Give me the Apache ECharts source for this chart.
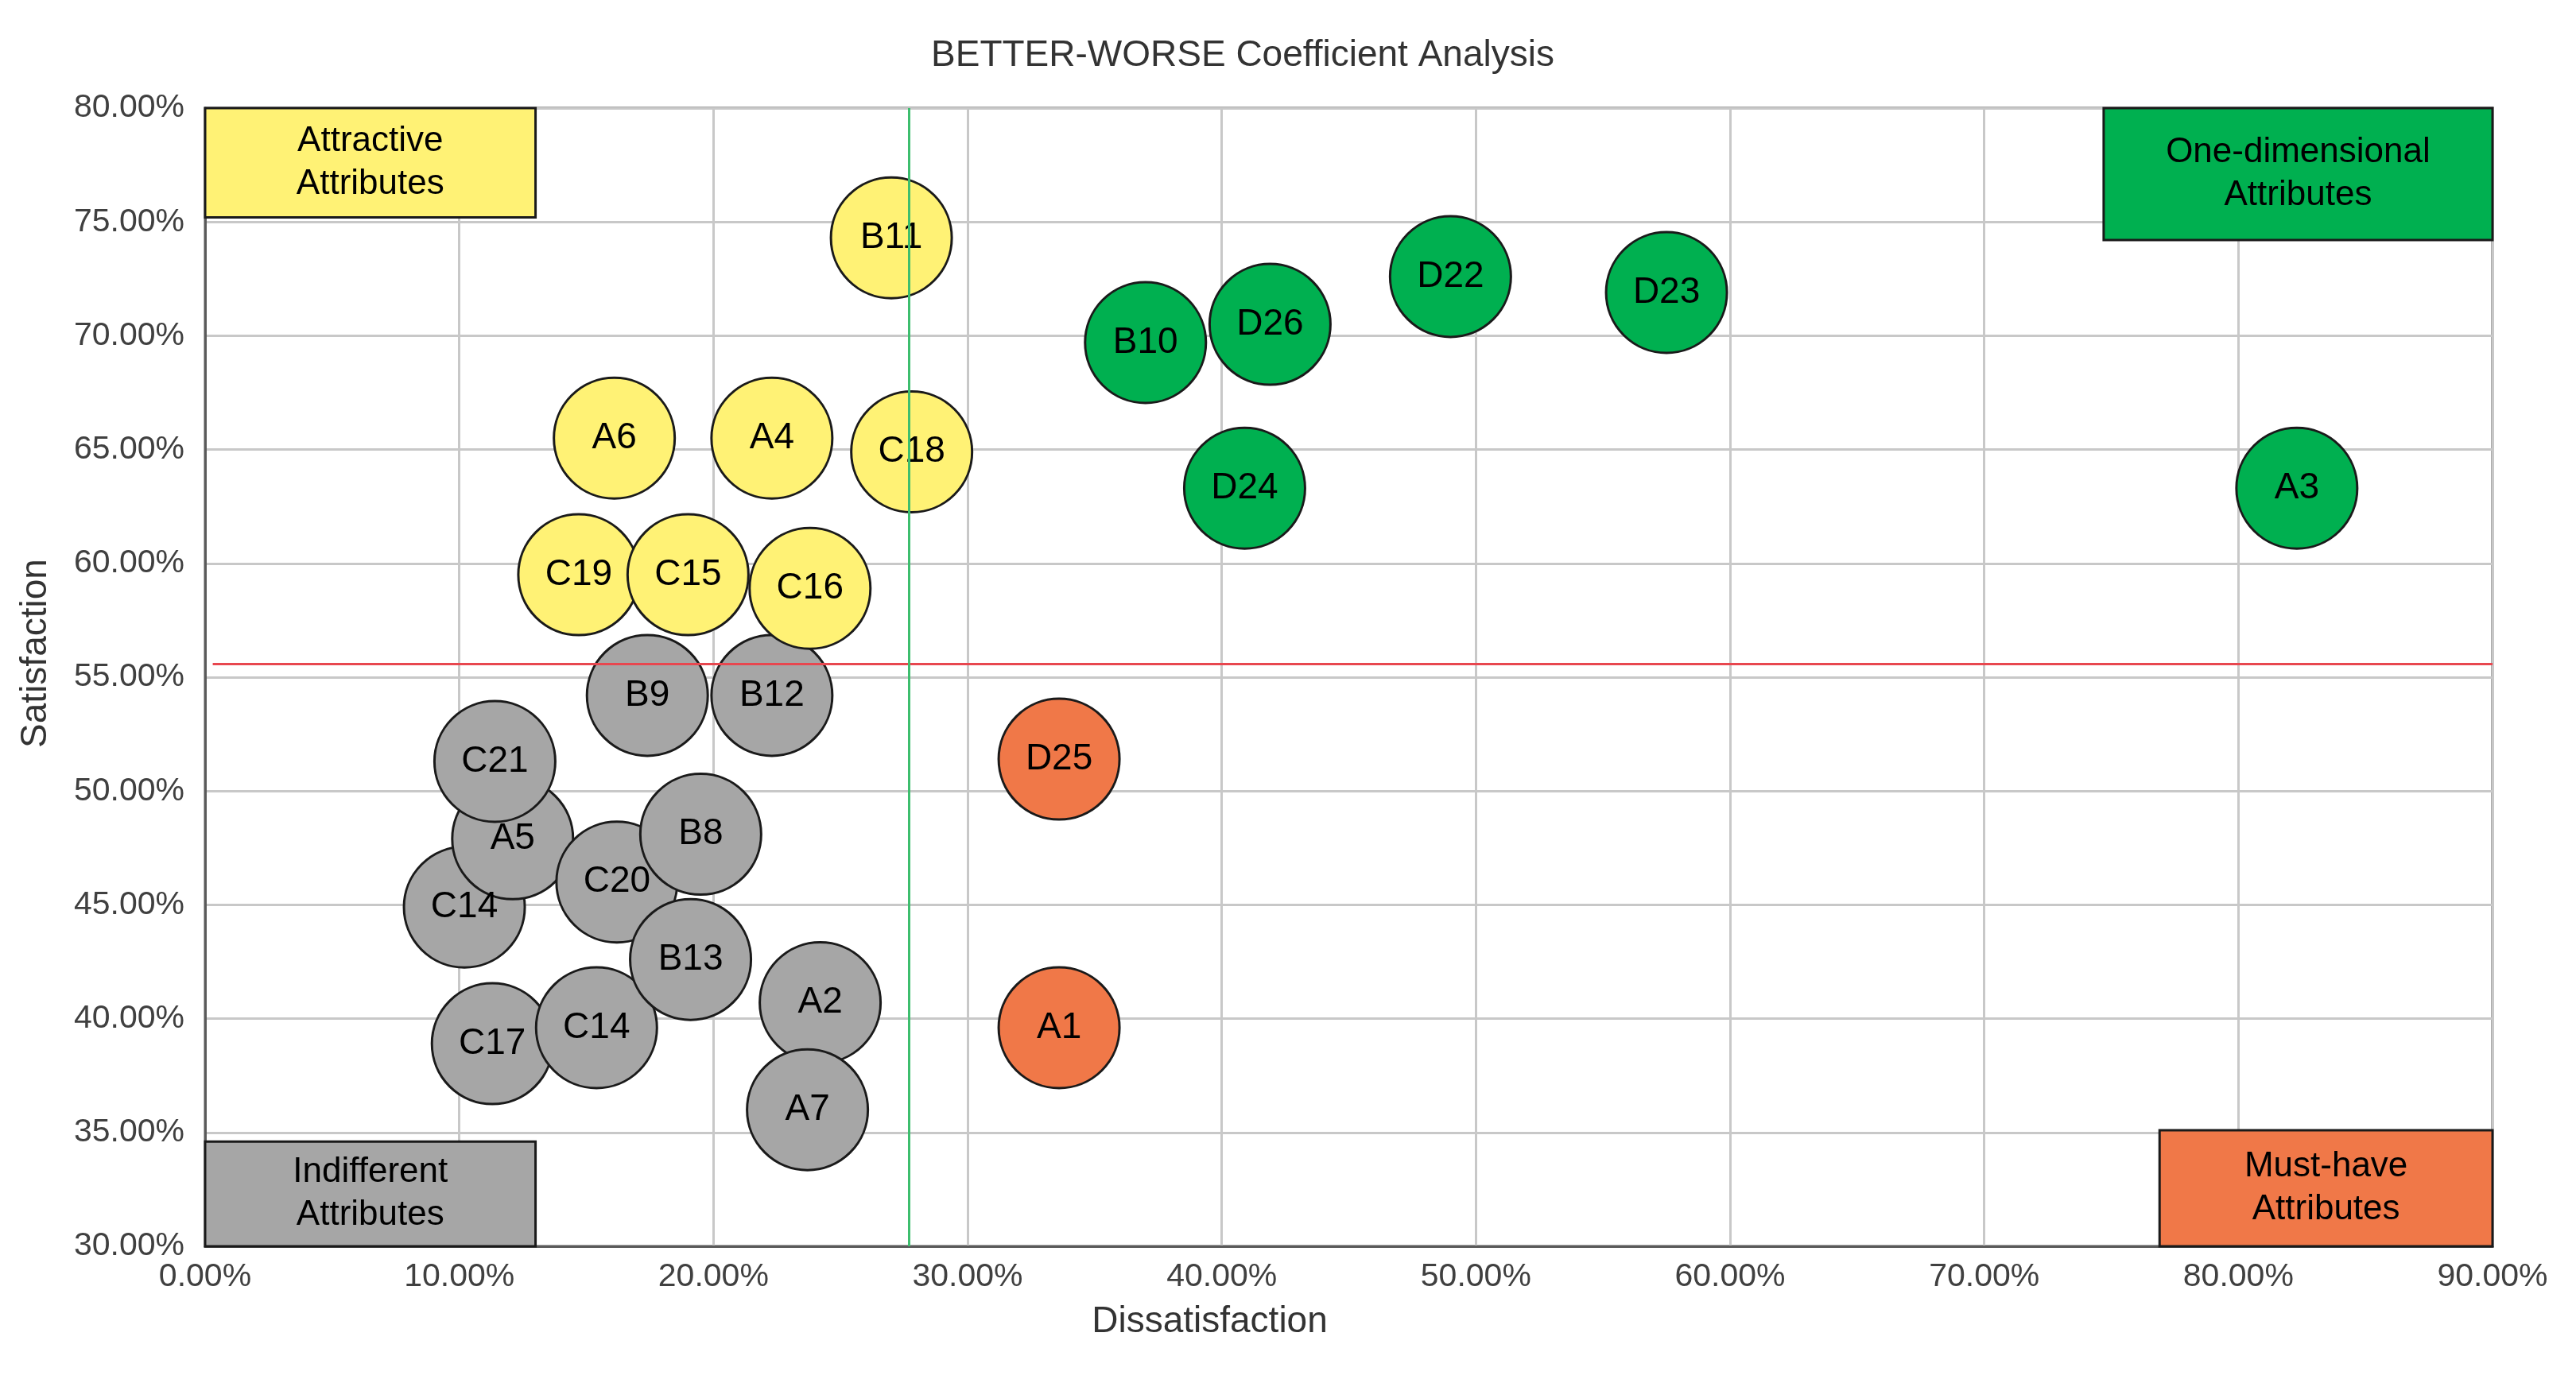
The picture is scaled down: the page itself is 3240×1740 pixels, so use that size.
<!DOCTYPE html>
<html>
<head>
<meta charset="utf-8">
<script src="https://cdn.jsdelivr.net/npm/echarts@6/dist/echarts.min.js"></script>
<style>
html,body{margin:0;padding:0;background:#fff;}
#chart{width:3240px;height:1740px;}
</style>
</head>
<body>
<div id="chart"></div>
<script>
// ---- data (values in %) ----
const grayNames = ['C14','A5','C21','C17','C14','C20','B8','B13','B9','B12','A2','A7'];
const grayX     = [10.2, 12.1, 11.4, 11.3, 15.4, 16.2, 19.5, 19.1, 17.4, 22.3, 24.2, 23.7];
const grayY     = [44.9, 47.9, 51.3, 38.9, 39.6, 46.0, 48.1, 42.6, 54.2, 54.2, 40.7, 36.0];

const orangeNames = ['D25','A1'];
const orangeX     = [33.6, 33.6];
const orangeY     = [51.4, 39.6];

const greenNames = ['B10','D26','D22','D23','D24','A3'];
const greenX     = [37.0, 41.9, 49.0, 57.5, 40.9, 82.3];
const greenY     = [69.7, 70.5, 72.6, 71.9, 63.3, 63.3];

const yellowNames = ['C19','C15','C16','A6','A4','C18','B11'];
const yellowX     = [14.7, 19.0, 23.8, 16.1, 22.3, 27.8, 27.0];
const yellowY     = [59.5, 59.5, 58.9, 65.5, 65.5, 64.9, 74.3];

const meanDissatisfaction = 27.7;
const meanSatisfaction = 55.6;

const xTicks = [0,10,20,30,40,50,60,70,80,90];
const yTicks = [30,35,40,45,50,55,60,65,70,75,80];

const quadrantNames = ['Attractive\nAttributes','One-dimensional\nAttributes','Indifferent\nAttributes','Must-have\nAttributes'];
// corner boxes in axis units: [x0, y0, x1, y1]
const quadrantBoxes = [[0,75.2,13.0,80],[74.7,74.2,90,80],[0,30,13.0,34.6],[76.9,30,90,35.1]];

const COL = {gray:'#A6A6A6', orange:'#F07848', green:'#00B050', yellow:'#FFF275'};
const FONT = "'Liberation Sans', Arial, sans-serif";

function pts(names, xs, ys){ return names.map((n,i)=>({name:n, value:[xs[i], ys[i]]})); }

function bubbleSeries(name, data, color){
  return {
    name: name, type:'scatter', data: data, symbol:'circle', symbolSize:152,
    itemStyle:{color:color, borderColor:'#1a1a1a', borderWidth:3, opacity:1},
    label:{show:true, position:'inside', formatter: p=>p.name, color:'#000', fontSize:46, fontFamily:FONT},
    emphasis:{disabled:true}
  };
}

const boxColors = [COL.yellow, COL.green, COL.gray, COL.orange];
const markAreaData = quadrantBoxes.map((b,i)=>[
  {coord:[b[0],b[1]], itemStyle:{color:boxColors[i], borderColor:'#1a1a1a', borderWidth:3, opacity:1},
   label:{show:true, position:'inside', formatter: quadrantNames[i], color:'#000', fontSize:44, lineHeight:54, fontFamily:FONT}},
  {coord:[b[2],b[3]]}
]);

const chart = echarts.init(document.getElementById('chart'), null, {renderer:'canvas'});
const pct = v => Number(v).toFixed(2) + '%';

chart.setOption({
  animation:false,
  backgroundColor:'#fff',
  title:{
    text:'BETTER-WORSE Coefficient Analysis', left:1558, top:42, textAlign:'center',
    textStyle:{fontFamily:FONT, fontSize:46, fontWeight:'normal', color:'#333'}
  },
  grid:{left:258, right:105, top:136, bottom:172, show:true, borderColor:'#5a5a5a', borderWidth:3, backgroundColor:'transparent'},
  xAxis:{
    type:'value', min:xTicks[0], max:xTicks[xTicks.length-1], interval:10,
    name:'Dissatisfaction', nameLocation:'middle', nameGap:72,
    nameTextStyle:{fontFamily:FONT, fontSize:46, color:'#333', padding:[0,350,0,0]},
    axisLine:{show:true, lineStyle:{color:'#5a5a5a', width:3}},
    axisTick:{show:false},
    axisLabel:{formatter:pct, fontFamily:FONT, fontSize:41, color:'#404040', margin:18},
    splitLine:{show:true, lineStyle:{color:'#c8c8c8', width:3}}
  },
  yAxis:{
    type:'value', min:yTicks[0], max:yTicks[yTicks.length-1], interval:5,
    name:'Satisfaction', nameLocation:'middle', nameGap:190, nameRotate:90,
    nameTextStyle:{fontFamily:FONT, fontSize:46, color:'#333', padding:[0,0,0,60]},
    axisLine:{show:true, lineStyle:{color:'#5a5a5a', width:3}},
    axisTick:{show:false},
    axisLabel:{formatter:pct, fontFamily:FONT, fontSize:41, color:'#404040', margin:26},
    splitLine:{show:true, lineStyle:{color:'#c8c8c8', width:3}}
  },
  series:[
    Object.assign(bubbleSeries('Indifferent', pts(grayNames,grayX,grayY), COL.gray), {
      markArea:{silent:true, data:markAreaData},
      markLine:{
        silent:true, symbol:'none', animation:false,
        label:{show:false},
        data:[
          [{coord:[0.3, meanSatisfaction], lineStyle:{color:'#E8474F', width:3, type:'solid'}},{coord:[90, meanSatisfaction]}],
          [{coord:[meanDissatisfaction, 30], lineStyle:{color:'#3DBE6E', width:3, type:'solid'}},{coord:[meanDissatisfaction, 80]}]
        ]
      }
    }),
    bubbleSeries('Must-have', pts(orangeNames,orangeX,orangeY), COL.orange),
    bubbleSeries('One-dimensional', pts(greenNames,greenX,greenY), COL.green),
    bubbleSeries('Attractive', pts(yellowNames,yellowX,yellowY), COL.yellow)
  ]
});
</script>
</body>
</html>
